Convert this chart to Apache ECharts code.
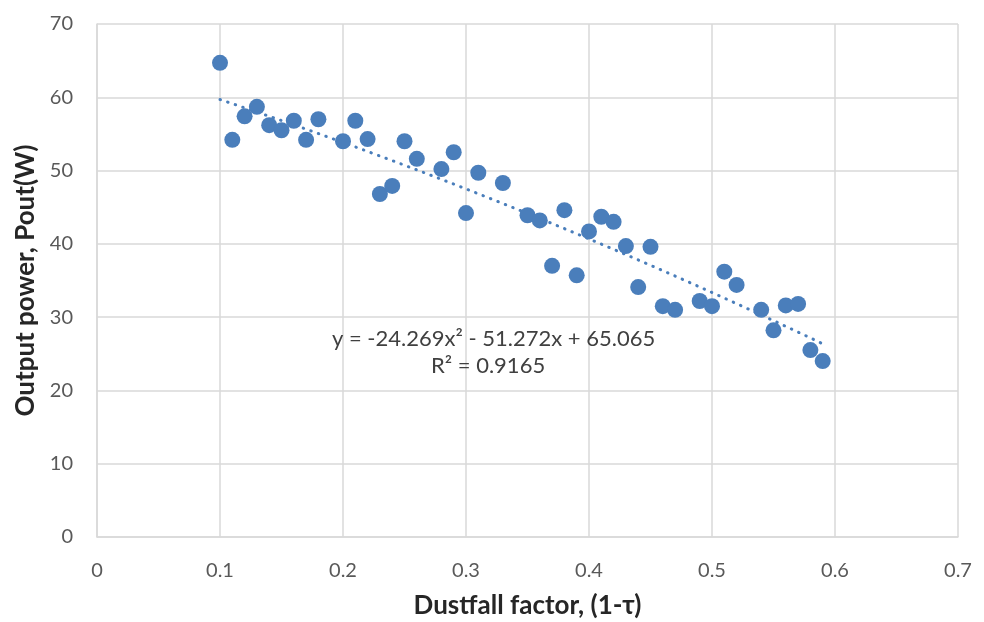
<!DOCTYPE html>
<html>
<head>
<meta charset="utf-8">
<script src="https://cdn.jsdelivr.net/npm/echarts@6/dist/echarts.min.js"></script>
<style>html,body{margin:0;padding:0;background:#fff;}#c{width:984px;height:622px;}</style>
</head>
<body>
<div id="c"></div>
<script>
const dustfall = [0.10,0.11,0.12,0.13,0.14,0.15,0.16,0.17,0.18,0.20,0.21,0.22,0.23,0.24,0.25,0.26,0.28,0.29,0.30,0.31,0.33,0.35,0.36,0.37,0.38,0.39,0.40,0.41,0.42,0.43,0.44,0.45,0.46,0.47,0.49,0.50,0.51,0.52,0.54,0.55,0.56,0.57,0.58,0.59];
const power = [64.7,54.2,57.4,58.7,56.2,55.5,56.8,54.2,57.0,54.0,56.8,54.3,46.8,47.9,54.0,51.6,50.2,52.5,44.2,49.7,48.3,43.9,43.2,37.0,44.6,35.7,41.7,43.7,43.0,39.7,34.1,39.6,31.5,31.0,32.2,31.5,36.2,34.4,31.0,28.2,31.6,31.8,25.5,24.0];
// Trendline coefficients as printed on the chart: y = a x^2 + b x + c
const trendCoef = [-24.269, -51.272, 65.065];
const equationText = 'y = -24.269x² - 51.272x + 65.065';
const r2Text = 'R² = 0.9165';
const xTitle = 'Dustfall factor, (1-τ)';
const yTitle = 'Output power, Pout(W)';

const points = dustfall.map((x, i) => [x, power[i]]);
const trend = dustfall.map(x => [x, trendCoef[0]*x*x + trendCoef[1]*x + trendCoef[2]]);

const FONT = "Lato, 'Open Sans', sans-serif";
const chart = echarts.init(document.getElementById('c'), null, {renderer: 'canvas'});
chart.setOption({
  backgroundColor: '#ffffff',
  animation: false,
  grid: {left: 97, right: 26, top: 24, bottom: 85, containLabel: false, outerBoundsMode: 'none'},
  xAxis: {
    type: 'value', min: 0, max: 0.7, interval: 0.1,
    name: xTitle, nameLocation: 'middle', nameGap: 56,
    nameTextStyle: {fontFamily: FONT, fontSize: 26, fontWeight: 'bold', color: '#262626'},
    axisLine: {show: true, lineStyle: {color: '#d9d9d9', width: 1.5}},
    axisTick: {show: false},
    axisLabel: {fontFamily: FONT, fontSize: 20, color: '#595959', margin: 24,
      formatter: v => (Math.round(v*10)/10).toString()},
    splitLine: {show: true, lineStyle: {color: '#d9d9d9', width: 1.5}}
  },
  yAxis: {
    type: 'value', min: 0, max: 70, interval: 10,
    name: yTitle, nameLocation: 'middle', nameGap: 56,
    nameTextStyle: {fontFamily: FONT, fontSize: 26, fontWeight: 'bold', color: '#262626'},
    axisLine: {show: true, lineStyle: {color: '#d9d9d9', width: 1.5}},
    axisTick: {show: false},
    axisLabel: {fontFamily: FONT, fontSize: 20, color: '#595959', margin: 24},
    splitLine: {show: true, lineStyle: {color: '#d9d9d9', width: 1.5}}
  },
  series: [
    {
      type: 'line', data: trend, showSymbol: false, smooth: false, z: 2,
      lineStyle: {color: '#4a7ebb', width: 3, type: [0.5, 7.5], cap: 'round'}
    },
    {
      type: 'scatter', data: points, symbol: 'circle', symbolSize: 16, z: 3,
      itemStyle: {color: '#4a7ebb', opacity: 1}
    }
  ],
  graphic: [
    {type: 'text', left: 332, top: 328, z: 10,
     style: {text: equationText, fontFamily: FONT, fontSize: 22, fill: '#404040'}},
    {type: 'text', left: 431, top: 355, z: 10,
     style: {text: r2Text, fontFamily: FONT, fontSize: 22, fill: '#404040'}}
  ]
});
</script>
</body>
</html>
